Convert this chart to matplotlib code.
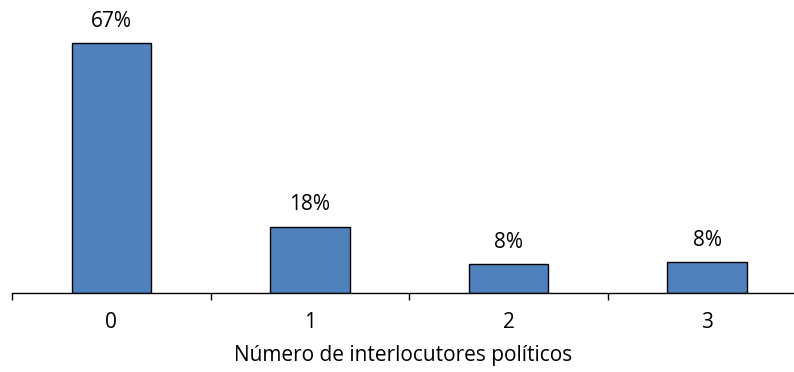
import matplotlib
matplotlib.use("Agg")
import matplotlib.pyplot as plt
from matplotlib.ticker import FixedLocator, NullLocator

categories = ["0", "1", "2", "3"]
shares = [66.7, 17.6, 7.6, 8.1]
xlabel = "Número de interlocutores políticos"

plt.rcParams["font.family"] = ["Open Sans", "DejaVu Sans"]

fig = plt.figure(figsize=(7.94, 3.72), dpi=100)
ax = fig.add_axes([12 / 794, 1 - 292.5 / 372, 1 - 12 / 794, 292.5 / 372])

x = list(range(len(categories)))
bars = ax.bar(x, shares, width=0.4, color="#4f81bd", edgecolor="black", linewidth=1.0, zorder=2)

for xi, v in zip(x, shares):
    ax.annotate(f"{v:.0f}%", (xi, v), xytext=(0, 8), textcoords="offset points",
                ha="center", va="bottom", fontsize=15)

ax.set_xlim(-0.5, 3.438)
ax.set_ylim(0, 78.1)

for side in ("left", "right", "top"):
    ax.spines[side].set_visible(False)
ax.spines["bottom"].set_linewidth(1.0)
ax.yaxis.set_major_locator(NullLocator())

ax.set_xticks(x)
ax.set_xticklabels(categories, fontsize=15)
ax.tick_params(axis="x", which="major", length=0, pad=14)
ax.xaxis.set_minor_locator(FixedLocator([-0.5, 0.5, 1.5, 2.5]))
ax.tick_params(axis="x", which="minor", length=5, width=1.0, direction="out")

ax.set_xlabel(xlabel, fontsize=15, labelpad=9)

fig.savefig("out.png", dpi=100)
